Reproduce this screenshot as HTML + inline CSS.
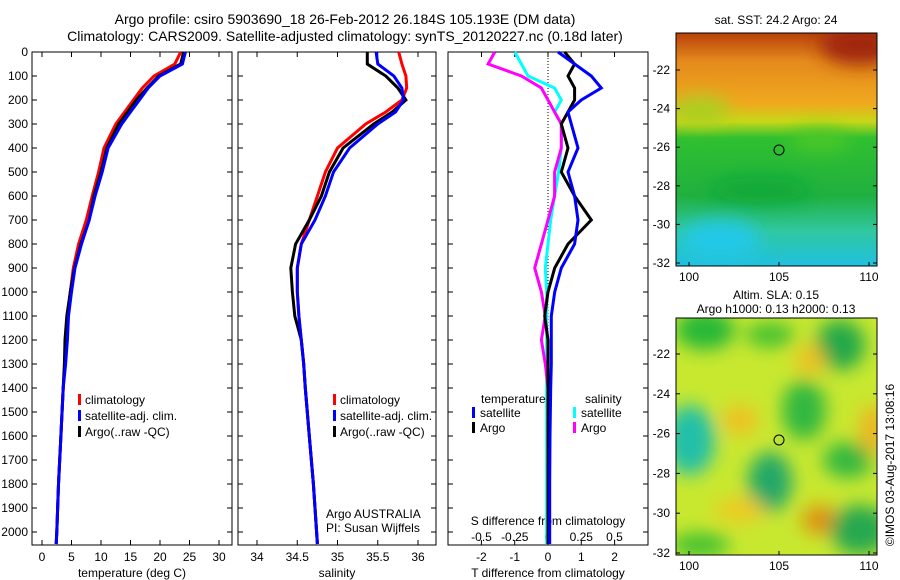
<!DOCTYPE html>
<html><head><meta charset="utf-8"><style>
body{margin:0;background:#fff;}
svg{display:block;font-family:"Liberation Sans",sans-serif;}
</style></head><body>
<svg id="chart" width="900" height="580" viewBox="0 0 900 580">
<defs>
<filter id="blur" x="-20%" y="-20%" width="140%" height="140%"><feGaussianBlur stdDeviation="9"/></filter>
<clipPath id="cm1"><rect x="676" y="33" width="201" height="233"/></clipPath>
<clipPath id="cm2"><rect x="676" y="318" width="201" height="237"/></clipPath>
<linearGradient id="sstg" x1="0" y1="0" x2="0" y2="1">
<stop offset="0" stop-color="#b8400a"/><stop offset="0.12" stop-color="#e48a1c"/><stop offset="0.3" stop-color="#f0a81e"/>
<stop offset="0.38" stop-color="#c8d818"/><stop offset="0.45" stop-color="#30c030"/><stop offset="0.7" stop-color="#20b040"/>
<stop offset="0.85" stop-color="#30c8a0"/><stop offset="1" stop-color="#20c0e0"/></linearGradient>
</defs>
<g font-size="14" text-anchor="middle" fill="#000">
<text x="345" y="24">Argo profile: csiro 5903690_18 26-Feb-2012 26.184S 105.193E (DM data)</text>
<text x="345" y="41">Climatology: CARS2009. Satellite-adjusted climatology: synTS_20120227.nc (0.18d later)</text>
</g>
<g id="panels"></g>
<g id="maps">
<text x="776" y="24" font-size="12" text-anchor="middle">sat. SST: 24.2 Argo: 24</text>
<g clip-path="url(#cm1)">
<rect x="676" y="33" width="201" height="233" fill="url(#sstg)"/>
<g filter="url(#blur)">
<ellipse cx="700" cy="110" rx="30" ry="14" fill="#a8d020"/>
<ellipse cx="860" cy="45" rx="40" ry="20" fill="#a02808"/>
<ellipse cx="820" cy="140" rx="30" ry="10" fill="#50c828"/>
<ellipse cx="760" cy="190" rx="50" ry="12" fill="#10a838"/>
<ellipse cx="720" cy="240" rx="40" ry="20" fill="#20c8e8"/>
</g></g>
<rect x="676" y="33" width="201" height="233" fill="none" stroke="#000"/>
<circle cx="779" cy="150" r="5" fill="none" stroke="#000"/>
<text x="776" y="299" font-size="12" text-anchor="middle">Altim. SLA: 0.15</text>
<text x="776" y="313" font-size="12" text-anchor="middle">Argo h1000: 0.13 h2000: 0.13</text>
<g clip-path="url(#cm2)">
<rect x="676" y="318" width="201" height="237" fill="#c8e830"/>
<g filter="url(#blur)">
<ellipse cx="705" cy="330" rx="30" ry="20" fill="#28b838"/>
<ellipse cx="840" cy="345" rx="25" ry="25" fill="#20a848"/>
<ellipse cx="770" cy="335" rx="25" ry="12" fill="#40c030"/>
<ellipse cx="690" cy="440" rx="25" ry="35" fill="#20c0a8"/>
<ellipse cx="804" cy="410" rx="22" ry="30" fill="#30b840"/>
<ellipse cx="770" cy="482" rx="22" ry="30" fill="#20a868"/>
<ellipse cx="848" cy="460" rx="25" ry="18" fill="#30b840"/>
<ellipse cx="740" cy="420" rx="18" ry="15" fill="#f0c020"/>
<ellipse cx="820" cy="520" rx="18" ry="15" fill="#e09010"/>
<ellipse cx="740" cy="510" rx="25" ry="12" fill="#f0c820"/>
<ellipse cx="860" cy="530" rx="30" ry="25" fill="#28a850"/>
<ellipse cx="700" cy="545" rx="30" ry="12" fill="#40c030"/>
<ellipse cx="872" cy="430" rx="12" ry="25" fill="#f0b020"/>
<ellipse cx="810" cy="360" rx="15" ry="15" fill="#f0c020"/>
</g></g>
<rect x="676" y="318" width="201" height="237" fill="none" stroke="#000"/>
<circle cx="779" cy="440" r="5" fill="none" stroke="#000"/>
<text transform="translate(894,465) rotate(-90)" font-size="12" text-anchor="middle">©IMOS 03-Aug-2017 13:08:16</text>
</g>
</svg>
<script>
const depths=[0,50,100,150,200,250,300,400,500,600,700,800,900,1000,1100,1200,1300,1400,1600,1800,2000,2050];
const tempClim=[23.5,22.5,19,17,15.5,14,12.5,10.5,9.6,8.5,7.5,6.2,5.3,4.8,4.4,4.2,3.9,3.6,3.2,2.8,2.5,2.4];
const tempSat=[24.3,23.8,20,18,16.5,15,13.5,11.2,10.2,9,8,6.7,5.6,5,4.5,4.3,4,3.6,3.2,2.8,2.5,2.4];
const tempArgo=[24,23.5,19.8,17.8,16,14.5,13,11,10,8.8,8,6.6,5.5,4.8,4.2,3.9,3.8,3.6,3.2,2.8,2.5,2.4];
const salClim=[35.76,35.8,35.85,35.86,35.8,35.6,35.35,35.0,34.85,34.75,34.65,34.55,34.5,34.5,34.52,34.55,34.58,34.6,34.65,34.7,34.74,34.75];
const salSat=[35.48,35.5,35.7,35.8,35.82,35.72,35.5,35.15,34.95,34.85,34.72,34.55,34.5,34.5,34.52,34.55,34.58,34.6,34.65,34.7,34.74,34.75];
const salArgo=[35.37,35.37,35.6,35.75,35.85,35.68,35.45,35.07,34.9,34.8,34.65,34.48,34.42,34.44,34.47,34.55,34.58,34.6,34.65,34.7,34.74,34.75];
const dTSat=[0.3,0.8,1.3,1.6,1.0,0.6,0.7,0.9,0.6,0.8,0.9,0.8,0.4,0.2,0.1,0.1,0.1,0.08,0.06,0.05,0.05,0.05];
const dTArgo=[0.5,0.8,0.6,0.8,0.8,0.6,0.4,0.6,0.4,0.8,1.3,0.6,0.2,0,-0.1,0,0,0,0,0,0,0];
const dSSat=[-0.25,-0.2,-0.15,0.05,0.1,0.05,0.1,0.1,0.08,0.05,0.02,0,-0.02,-0.01,-0.01,-0.01,-0.01,-0.01,-0.01,-0.01,-0.01,-0.01];
const dSArgo=[-0.4,-0.45,-0.2,-0.05,0,0.05,0.1,0.1,0.05,0.05,0,-0.05,-0.1,-0.05,-0.02,-0.05,-0.02,0,0,0,0,0];
const depthTicks=[0,100,200,300,400,500,600,700,800,900,1000,1100,1200,1300,1400,1500,1600,1700,1800,1900,2000];
const tempTicks=[0,5,10,15,20,25,30];
const salTicks=[34,34.5,35,35.5,36];
const dTTicks=[-2,-1,0,1,2];
const dSTicks=[-0.5,-0.25,0,0.25,0.5];
const NS="http://www.w3.org/2000/svg";
const P=document.getElementById('panels');
const yD=d=>52+d*0.24;
const xT=t=>42+t*5.9;
const xS=s=>257+(s-34)*80.5;
const xDT=t=>548+t*33.3;
const xDS=s=>548+s*133;
function mk(tag,attrs,parent){const e=document.createElementNS(NS,tag);for(const k in attrs)e.setAttribute(k,attrs[k]);(parent||P).appendChild(e);return e;}
function txt(x,y,s,anchor,parent){const t=mk('text',{x:x,y:y,'font-size':12,'text-anchor':anchor||'start'},parent);t.textContent=s;return t;}
function frame(x0,x1,name){
  const g=mk('g',{});
  
  
  mk('rect',{x:x0,y:52,width:x1-x0,height:493,fill:'none',stroke:'#000'},g);
  depthTicks.forEach(d=>{mk('line',{x1:x0,x2:x0+5,y1:yD(d),y2:yD(d),stroke:'#000'},g);mk('line',{x1:x1-5,x2:x1,y1:yD(d),y2:yD(d),stroke:'#000'},g);});
  return g;
}
function line(xf,vals,color,name,g,w){
  const pts=depths.map((d,i)=>xf(vals[i]).toFixed(1)+','+yD(d).toFixed(1)).join(' ');
  const p=mk('polyline',{points:pts,fill:'none',stroke:color,'stroke-width':w||3},g);
  
  
}
const g1=frame(32,232,'temperature-panel');
depthTicks.forEach(d=>{const t=txt(28,yD(d)+4,String(d),'end',g1);});
tempTicks.forEach(t=>{mk('line',{x1:xT(t),x2:xT(t),y1:545,y2:540,stroke:'#000'},g1);mk('line',{x1:xT(t),x2:xT(t),y1:52,y2:57,stroke:'#000'},g1);txt(xT(t),561,String(t),'middle',g1);});
txt(132,577,'temperature (deg C)','middle',g1);
line(xT,tempClim,'#f00','temp-climatology-line',g1);
line(xT,tempArgo,'#000','temp-argo-line',g1);
line(xT,tempSat,'#00f','temp-satellite-line',g1);
function legend(x,g){[['#f00','climatology'],['#00f','satellite-adj. clim.'],['#000','Argo(..raw -QC)']].forEach((l,i)=>{mk('rect',{x:x,y:394+i*16,width:3,height:11,fill:l[0]},g);txt(x+7,404+i*16,l[1],'start',g);});}
legend(78,g1);
const g2=frame(238,436,'salinity-panel');
salTicks.forEach(t=>{mk('line',{x1:xS(t),x2:xS(t),y1:545,y2:540,stroke:'#000'},g2);mk('line',{x1:xS(t),x2:xS(t),y1:52,y2:57,stroke:'#000'},g2);txt(xS(t),561,String(t),'middle',g2);});
txt(337,577,'salinity','middle',g2);
line(xS,salClim,'#f00','sal-climatology-line',g2);
line(xS,salArgo,'#000','sal-argo-line',g2);
line(xS,salSat,'#00f','sal-satellite-line',g2);
legend(333,g2);
txt(326,518,'Argo AUSTRALIA','start',g2);
txt(326,532,'PI: Susan Wijffels','start',g2);
const g3=frame(448,648,'difference-panel');
mk('line',{x1:548,x2:548,y1:52,y2:545,stroke:'#000','stroke-dasharray':'1,2'},g3);
dTTicks.forEach(t=>{mk('line',{x1:xDT(t),x2:xDT(t),y1:545,y2:540,stroke:'#000'},g3);txt(xDT(t),561,String(t),'middle',g3);});
dSTicks.forEach(t=>{mk('line',{x1:xDS(t),x2:xDS(t),y1:52,y2:57,stroke:'#000'},g3);txt(xDS(t),541,String(t),'middle',g3);});
txt(548,525,'S difference from climatology','middle',g3);
txt(548,577,'T difference from climatology','middle',g3);
line(xDS,dSSat,'#0ff','s-diff-satellite-line',g3);
line(xDS,dSArgo,'#f0f','s-diff-argo-line',g3);
line(xDT,dTArgo,'#000','t-diff-argo-line',g3);
line(xDT,dTSat,'#00f','t-diff-satellite-line',g3);
txt(481,403,'temperature','start',g3);txt(585,403,'salinity','start',g3);
[['#00f','satellite',472],['#000','Argo',472],['#0ff','satellite',573],['#f0f','Argo',573]].forEach((l,i)=>{const r=i%2;mk('rect',{x:l[2],y:407+r*15,width:3,height:11,fill:l[0]},g3);txt(l[2]+8,417+r*15,l[1],'start',g3);});
const M=document.getElementById('maps');
const mapLats=[-22,-24,-26,-28,-30,-32];
const mapLons=[100,105,110];
function mapAxes(top,bot,y22,y32){
  mapLats.forEach(l=>{const y=y22+(l+22)/(-10)*(y32-y22);mk('line',{x1:676,x2:680,y1:y,y2:y,stroke:'#000'},M);mk('line',{x1:873,x2:877,y1:y,y2:y,stroke:'#000'},M);txt(670,y+4,String(l),'end',M);});
  mapLons.forEach(l=>{const x=689+(l-100)*18;mk('line',{x1:x,x2:x,y1:bot,y2:bot-4,stroke:'#000'},M);txt(x,bot+15,String(l),'middle',M);});
}
mapAxes(33,266,70,263);
mapAxes(318,555,354,553);
</script>
</body></html>
